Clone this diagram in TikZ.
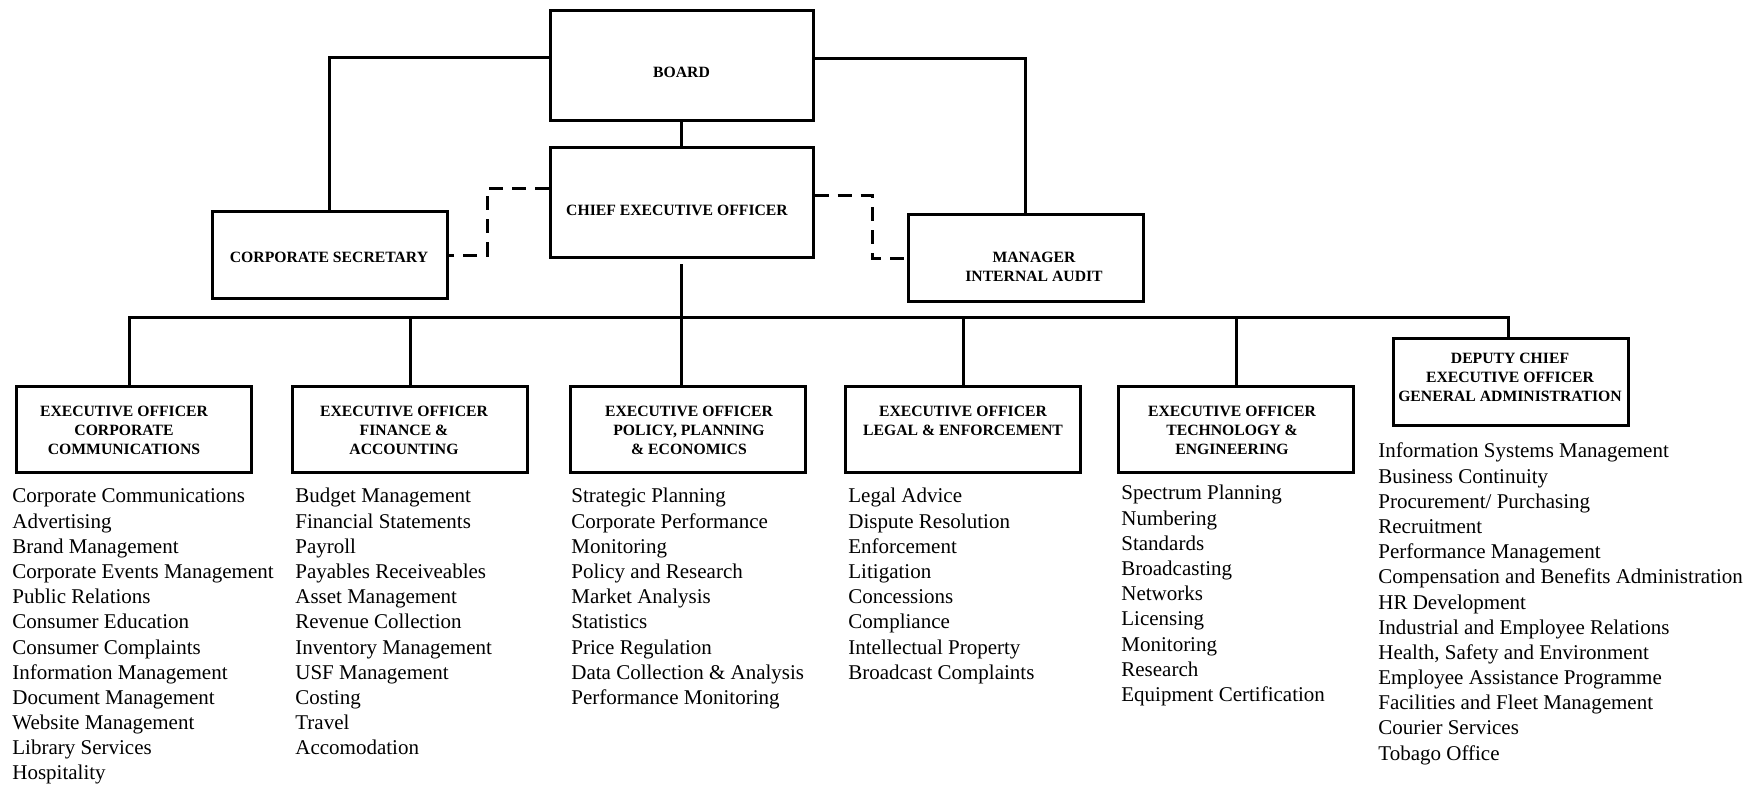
\documentclass[tikz,border=0pt]{standalone}
\usepackage{fontspec}
\setmainfont{Liberation Serif}
\begin{document}
\begin{tikzpicture}[x=0.5pt,y=-0.5pt,
  box/.style={draw, line width=1.5pt, inner sep=0pt, minimum width=117.5pt, minimum height=43pt},
  lbl/.style={font=\fontsize{7.85pt}{9.5pt}\selectfont\bfseries, align=center, inner sep=0pt},
  item/.style={font=\fontsize{10.5pt}{12.6pt}\selectfont, anchor=base west, inner sep=0pt},
  conn/.style={line width=1.5pt},
  dashline/.style={line width=1.5pt, dash pattern=on 7pt off 4.5pt}]
\useasboundingbox (0,0) rectangle (1762,785);

% boxes
\node[box, minimum width=131.5pt, minimum height=55pt] (board) at (681.5,66) {};
\node[box, minimum width=131.5pt, minimum height=55pt] (ceo) at (681.5,203) {};
\node[box, minimum height=43.5pt] (corpsec) at (329.5,255.5) {};
\node[box, minimum height=43.5pt] (mgr) at (1025.5,258.5) {};
\node[box] (b1) at (133.5,430) {};
\node[box] (b2) at (410,430) {};
\node[box] (b3) at (688,430) {};
\node[box] (b4) at (963,430) {};
\node[box] (b5) at (1236,430) {};
\node[box, minimum height=43.5pt] (dceo) at (1511,382.5) {};

% box texts
\node[lbl] (t-board) at (681.5,72) {BOARD};
\node[lbl] (t-ceo) at (677,210) {CHIEF EXECUTIVE OFFICER};
\node[lbl] (t-corpsec) at (329,257) {CORPORATE SECRETARY};
\node[lbl] (t-mgr) at (1034,266.5) {MANAGER\\INTERNAL AUDIT};
\node[lbl] (t-b1) at (124,430) {EXECUTIVE OFFICER\\CORPORATE\\COMMUNICATIONS};
\node[lbl] (t-b2) at (404,430) {EXECUTIVE OFFICER\\FINANCE \&\\ACCOUNTING};
\node[lbl] (t-b3) at (689,430) {EXECUTIVE OFFICER\\POLICY, PLANNING\\\& ECONOMICS};
\node[lbl] (t-b4) at (963,420.5) {EXECUTIVE OFFICER\\LEGAL \& ENFORCEMENT};
\node[lbl] (t-b5) at (1232,430) {EXECUTIVE OFFICER\\TECHNOLOGY \&\\ENGINEERING};
\node[lbl] (t-dceo) at (1510,377) {DEPUTY CHIEF\\EXECUTIVE OFFICER\\GENERAL ADMINISTRATION};

% connectors
\coordinate (bus) at (0,318);
\coordinate (dl) at (487,0);
\coordinate (dr) at (872,0);
\draw[conn] (board) -- (ceo);
\draw[conn] ([yshift=4pt]board.west) -| (corpsec.north);
\draw[conn] ([yshift=3.5pt]board.east) -| (mgr.north);
\draw[dashline] ([yshift=7pt]ceo.west) -| (dl |- corpsec.east) -- (corpsec.east);
\draw[dashline] ([yshift=3.5pt]ceo.east) -| (dr |- mgr.west) -- (mgr.west);
\draw[conn] ([yshift=-2.5pt]ceo.south) -- (ceo.south |- b3.north);
\draw[conn] ([xshift=-2.25pt]b1.north) |- ([xshift=-1.5pt]dceo.north |- bus) -- ([xshift=-1.5pt]dceo.north);
\foreach \b in {b2,b4,b5} \draw[conn] (\b.north) -- (\b.north |- bus);

% lists
\foreach \t [count=\i from 0] in {Corporate Communications, Advertising, Brand Management, Corporate Events Management, Public Relations, Consumer Education, Consumer Complaints, Information Management, Document Management, Website Management, Library Services, Hospitality}
  \node[item] (l1-\i) at (12,{503+25.17*\i}) {\t};
\foreach \t [count=\i from 0] in {Budget Management, Financial Statements, Payroll, Payables Receiveables, Asset Management, Revenue Collection, Inventory Management, USF Management, Costing, Travel, Accomodation}
  \node[item] (l2-\i) at (295,{503+25.17*\i}) {\t};
\foreach \t [count=\i from 0] in {Strategic Planning, Corporate Performance, Monitoring, Policy and Research, Market Analysis, Statistics, Price Regulation, Data Collection \& Analysis, Performance Monitoring}
  \node[item] (l3-\i) at (571,{503+25.17*\i}) {\t};
\foreach \t [count=\i from 0] in {Legal Advice, Dispute Resolution, Enforcement, Litigation, Concessions, Compliance, Intellectual Property, Broadcast Complaints}
  \node[item] (l4-\i) at (848,{503+25.17*\i}) {\t};
\foreach \t [count=\i from 0] in {Spectrum Planning, Numbering, Standards, Broadcasting, Networks, Licensing, Monitoring, Research, Equipment Certification}
  \node[item] (l5-\i) at (1121,{500+25.17*\i}) {\t};
\foreach \t [count=\i from 0] in {Information Systems Management, Business Continuity, Procurement/ Purchasing, Recruitment, Performance Management, Compensation and Benefits Administration, HR Development, Industrial and Employee Relations, {Health, Safety and Environment}, Employee Assistance Programme, Facilities and Fleet Management, Courier Services, Tobago Office}
  \node[item] (l6-\i) at (1378,{458+25.17*\i}) {\t};
\end{tikzpicture}
\end{document}
